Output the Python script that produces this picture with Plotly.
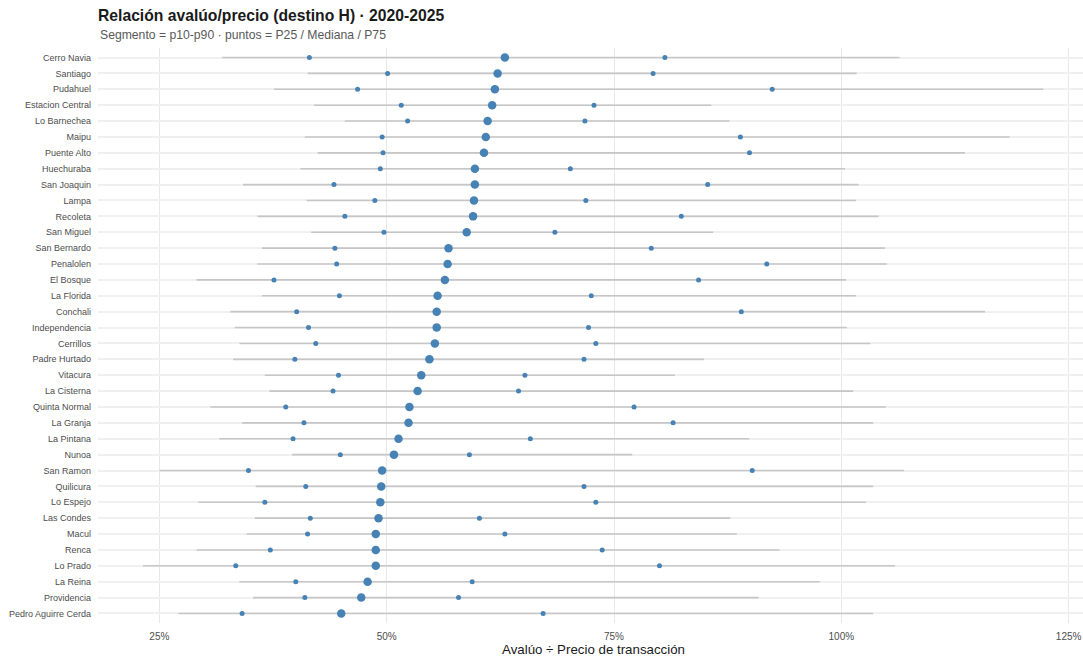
import plotly.graph_objects as go

comunas = ["Cerro Navia", "Santiago", "Pudahuel", "Estacion Central", "Lo Barnechea", "Maipu",
           "Puente Alto", "Huechuraba", "San Joaquin", "Lampa", "Recoleta", "San Miguel",
           "San Bernardo", "Penalolen", "El Bosque", "La Florida", "Conchali", "Independencia",
           "Cerrillos", "Padre Hurtado", "Vitacura", "La Cisterna", "Quinta Normal", "La Granja",
           "La Pintana", "Nunoa", "San Ramon", "Quilicura", "Lo Espejo", "Las Condes", "Macul",
           "Renca", "Lo Prado", "La Reina", "Providencia", "Pedro Aguirre Cerda"]

p10 = [31.9, 41.3, 37.6, 42.0, 45.4, 41.0, 42.4, 40.5, 34.2, 41.2, 35.8, 41.7,
       36.3, 35.8, 29.1, 36.3, 32.8, 33.3, 33.8, 33.1, 36.6, 37.1, 30.6, 34.1,
       31.6, 39.6, 25.0, 35.6, 29.3, 35.5, 34.6, 29.1, 23.2, 33.8, 35.3, 27.1]
p25 = [41.5, 50.1, 46.8, 51.6, 52.3, 49.5, 49.6, 49.3, 44.2, 48.7, 45.4, 49.7,
       44.3, 44.5, 37.6, 44.8, 40.1, 41.4, 42.2, 39.9, 44.7, 44.1, 38.9, 40.9,
       39.7, 44.9, 34.8, 41.1, 36.6, 41.6, 41.3, 37.2, 33.4, 40.0, 41.0, 34.1]
mediana = [63.0, 62.2, 61.9, 61.6, 61.1, 60.9, 60.7, 59.7, 59.7, 59.6, 59.5, 58.8,
           56.8, 56.7, 56.4, 55.6, 55.5, 55.5, 55.3, 54.7, 53.8, 53.4, 52.5, 52.4,
           51.3, 50.8, 49.5, 49.4, 49.3, 49.1, 48.8, 48.8, 48.8, 47.9, 47.2, 45.0]
p75 = [80.6, 79.3, 92.4, 72.8, 71.8, 88.9, 89.9, 70.2, 85.3, 71.9, 82.4, 68.5,
       79.1, 91.8, 84.3, 72.5, 89.0, 72.2, 73.0, 71.7, 65.2, 64.5, 77.2, 81.5,
       65.8, 59.1, 90.2, 71.7, 73.0, 60.2, 63.0, 73.7, 80.0, 59.4, 57.9, 67.2]
p90 = [106.4, 101.7, 122.2, 85.7, 87.7, 118.5, 113.6, 100.4, 101.9, 101.6, 104.1, 85.9,
       104.8, 105.0, 100.5, 101.6, 115.8, 100.6, 103.2, 84.9, 81.7, 101.3, 104.9, 103.5,
       89.9, 77.0, 106.9, 103.5, 102.7, 87.8, 88.5, 93.2, 105.9, 97.6, 90.9, 103.5]

tick_vals = [25, 50, 75, 100, 125]
tick_text = ["25%", "50%", "75%", "100%", "125%"]

seg_x, seg_y = [], []
for c, a, b in zip(comunas, p10, p90):
    seg_x += [a, b, None]
    seg_y += [c, c, None]

blue = "#4682B4"
fig = go.Figure()
fig.add_trace(go.Scatter(x=seg_x, y=seg_y, mode="lines",
                         line=dict(color="#c6c6c6", width=1.6),
                         hoverinfo="skip", showlegend=False))
fig.add_trace(go.Scatter(x=p25, y=comunas, mode="markers",
                         marker=dict(color=blue, size=5, line=dict(width=0)),
                         showlegend=False, name="P25"))
fig.add_trace(go.Scatter(x=p75, y=comunas, mode="markers",
                         marker=dict(color=blue, size=5, line=dict(width=0)),
                         showlegend=False, name="P75"))
fig.add_trace(go.Scatter(x=mediana, y=comunas, mode="markers",
                         marker=dict(color=blue, size=8.5, line=dict(width=0)),
                         showlegend=False, name="Mediana"))

W, H = 1083, 658
L, R, T, B = 98, 0, 48, 35
PH = H - T - B
PW = W - L - R
font_family = "Liberation Sans, Arial, sans-serif"
fig.update_layout(
    width=W, height=H,
    margin=dict(l=L, r=R, t=T, b=B),
    paper_bgcolor="white", plot_bgcolor="white",
    font=dict(family=font_family, color="#4d4d4d", size=9),
    title=dict(text="<b>Relación avalúo/precio (destino H) · 2020-2025</b>",
               x=L / W, xanchor="left", y=1 - 16 / H, yanchor="middle",
               font=dict(size=15.7, color="#1a1a1a", family=font_family)),
    annotations=[
        dict(text="Segmento = p10-p90 · puntos = P25 / Mediana / P75",
             xref="paper", yref="paper", x=0, xanchor="left",
             y=1 + 12.5 / PH, yanchor="middle", showarrow=False,
             font=dict(size=12.2, color="#595959", family=font_family)),
        dict(text="Avalúo ÷ Precio de transacción",
             xref="paper", yref="paper", x=(593 - L) / PW, xanchor="center",
             y=-26.5 / PH, yanchor="middle", showarrow=False,
             font=dict(size=13.3, color="#1a1a1a", family=font_family)),
    ],
    xaxis=dict(range=[18.25, 126.58], tickvals=tick_vals, ticktext=tick_text,
               showgrid=True, gridcolor="#e8e8e8", gridwidth=1, zeroline=False,
               showline=False, ticks="", ticklabelstandoff=6,
               ticklabeloverflow="allow",
               tickfont=dict(size=10, color="#4d4d4d")),
    yaxis=dict(categoryorder="array", categoryarray=comunas, autorange=False,
               range=[len(comunas) - 0.4, -0.6],
               showgrid=True, gridcolor="#f0f0f0", gridwidth=1.5, zeroline=False,
               showline=False, ticks="", ticklabelstandoff=6,
               tickfont=dict(size=9, color="#4d4d4d")),
)
fig.write_html("out.html", config={"displayModeBar": False},
               post_script="document.body.style.margin='0';document.body.style.overflow='hidden';")
